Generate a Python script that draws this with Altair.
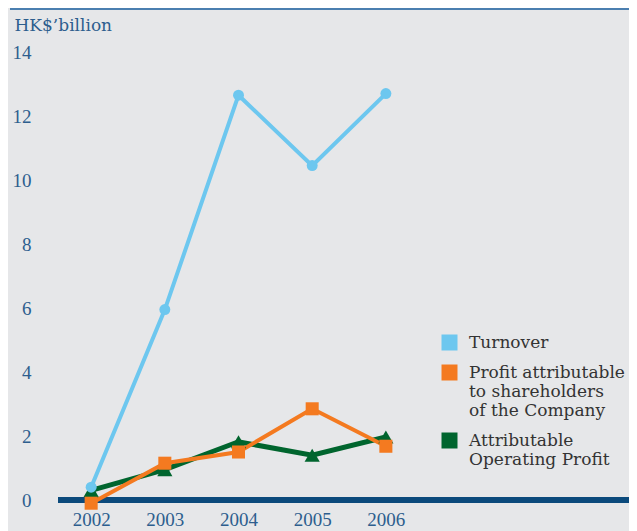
import altair as alt
import pandas as pd

years = [2002, 2003, 2004, 2005, 2006]
turnover = [0.4, 5.95, 12.65, 10.45, 12.7]
profit_shareholders = [-0.1, 1.15, 1.5, 2.85, 1.68]
operating_profit = [0.3, 0.95, 1.82, 1.4, 1.97]

series_names = [
    "Turnover",
    "Profit attributable to shareholders of the Company",
    "Attributable Operating Profit",
]
legend_lines = [
    ["Turnover"],
    ["Profit attributable", "to shareholders", "of the Company"],
    ["Attributable", "Operating Profit"],
]
series_values = [turnover, profit_shareholders, operating_profit]
series_colors = ["#6dc7ef", "#f47a20", "#00652e"]
series_shapes = ["circle", "square", "triangle-up"]
series_sizes = [120, 170, 230]
series_widths = [4, 4, 5]
y_ticks = [0, 2, 4, 6, 8, 10, 12, 14]

rows = []
for name, vals in zip(series_names, series_values):
    for yr, v in zip(years, vals):
        rows.append({"series": name, "year": yr, "value": v})
df = pd.DataFrame(rows)

W, H = 571, 448
LABEL_COLOR = "#2d5e8e"

x_scale = alt.Scale(domain=[2001.55, 2009.3], nice=False, zero=False)
y_scale = alt.Scale(domain=[0, 14], nice=False)
color_scale = alt.Scale(domain=series_names, range=series_colors)

label_expr = " : ".join(
    [f"datum.label == '{n}' ? {lines!r}" for n, lines in zip(series_names, legend_lines)]
) + " : datum.label"

x_axis = alt.Axis(values=years, format="d", title=None, domain=False, ticks=False,
                  grid=False, labelFont="Liberation Serif", labelFontSize=19,
                  labelColor=LABEL_COLOR, labelPadding=10)
y_axis = alt.Axis(values=y_ticks, title="HK$’billion", domain=False, ticks=False, grid=False,
                  labelFont="Liberation Serif", labelFontSize=19, labelColor=LABEL_COLOR,
                  labelPadding=27, titleAngle=0, titleX=-44, titleY=-22,
                  titleAlign="left", titleBaseline="alphabetic", titleFont="DejaVu Serif",
                  titleFontSize=17, titleFontWeight="normal", titleColor=LABEL_COLOR)

legend = alt.Legend(title=None, orient="none", legendX=383, legendY=282,
                    symbolType="square", symbolSize=256, symbolStrokeWidth=0,
                    labelFont="DejaVu Serif", labelFontSize=17, labelColor="#333333",
                    labelLimit=0, labelOffset=11, rowPadding=12, padding=0,
                    labelExpr=label_expr)

base = alt.Chart(df).encode(
    x=alt.X("year:Q", scale=x_scale, axis=x_axis),
    y=alt.Y("value:Q", scale=y_scale, axis=y_axis),
)

baseline = alt.Chart(pd.DataFrame({"value": [0]})).mark_rule(
    color="#0b4a7c", strokeWidth=6
).encode(y=alt.Y("value:Q", scale=y_scale), x=alt.value(0), x2=alt.value(W))

topline = alt.Chart(pd.DataFrame({"value": [0]})).mark_rule(
    color="#4b7fb0", strokeWidth=2
).encode(y=alt.value(-43), x=alt.value(-48), x2=alt.value(W))

layers = [topline, baseline]
draw_order = [2, 0, 1]
for i in draw_order:
    name = series_names[i]
    sub = base.transform_filter(alt.datum.series == name)
    layers.append(sub.mark_line(color=series_colors[i], strokeWidth=series_widths[i]))
for i in draw_order:
    name = series_names[i]
    sub = base.transform_filter(alt.datum.series == name)
    layers.append(
        sub.mark_point(shape=series_shapes[i], filled=True, size=series_sizes[i], opacity=1).encode(
            color=alt.Color("series:N", scale=color_scale, legend=legend)
        )
    )

chart = alt.layer(*layers).properties(
    width=W, height=H,
    padding={"left": 50, "top": 44, "right": 0, "bottom": 31},
    autosize=alt.AutoSizeParams(type="none"),
    background="#e6e7e9",
).configure_view(stroke=None)

chart.save("out.html", embed_options={"renderer": "svg", "actions": False})
